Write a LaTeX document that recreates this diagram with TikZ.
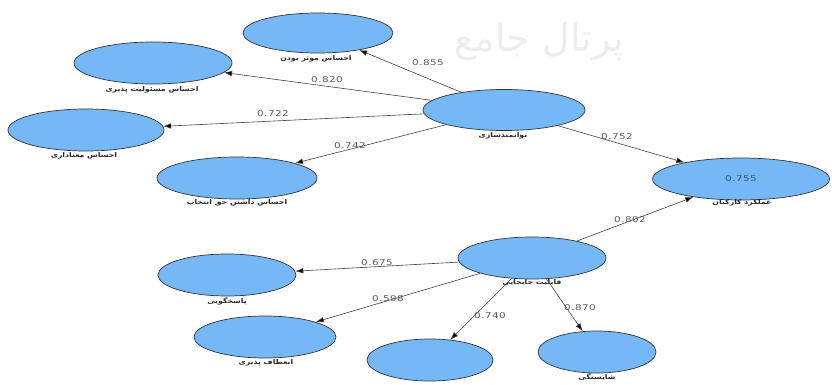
\documentclass[tikz,border=0pt]{standalone}
\usepackage{fontspec}
\setmainfont{DejaVu Sans}
\TeXXeTstate=1
\newfontfamily\fa[Script=Arabic,FakeStretch=1.2]{DejaVu Sans}
\newfontfamily\wmfont[Script=Arabic]{DejaVu Sans}
\newfontfamily\num[FakeStretch=1.3,LetterSpace=6]{DejaVu Sans}
\usetikzlibrary{arrows.meta,shapes.geometric}
\definecolor{lvblue}{RGB}{118,184,245}
\definecolor{rtxt}{RGB}{40,90,115}
\begin{document}
\begin{tikzpicture}[x=1pt,y=-1pt,
  lv/.style={ellipse,draw=black!80,line width=0.7pt,fill=lvblue,inner sep=0pt},
  lab/.style={font=\fa\bfseries\fontsize{6.5}{7}\selectfont,inner sep=0pt,text=black!85},
  coef/.style={font=\num\fontsize{8}{9}\selectfont,text=black!65,inner sep=0pt},
  arr/.style={draw=black!75,line width=0.6pt,-{Latex[length=8pt,width=5.5pt,fill=black]}}]
\useasboundingbox (0,0) rectangle (832,385);
% watermark
\node[text=black!7,font=\wmfont\fontsize{38}{38}\selectfont,inner sep=0pt,anchor=east] (wm) at (624,42) {\beginR پرتال جامع\endR};
% latent variables
\node[lv,minimum width=150pt,minimum height=40pt] (A) at (318,33) {};
\node[lv,minimum width=158pt,minimum height=42pt] (B) at (153,63) {};
\node[lv,minimum width=156pt,minimum height=42pt] (C) at (86,130) {};
\node[lv,minimum width=160pt,minimum height=42pt] (D) at (237,178) {};
\node[lv,minimum width=162pt,minimum height=41pt] (E) at (504,110) {};
\node[lv,minimum width=177pt,minimum height=42pt] (F) at (741,179) {};
\node[lv,minimum width=148pt,minimum height=42pt] (G) at (532,258) {};
\node[lv,minimum width=138pt,minimum height=42pt] (H) at (227,275) {};
\node[lv,minimum width=142pt,minimum height=42pt] (I) at (265,337) {};
\node[lv,minimum width=126pt,minimum height=42pt] (J) at (430,360) {};
\node[lv,minimum width=118pt,minimum height=42pt] (K) at (597,352) {};
\node[coef,text=rtxt] (r2) at (F.center) {0.755};
% labels
\node[lab] (lA) at (316,59) {\beginR احساس موثر بودن\endR};
\node[lab] (lB) at (152,90) {\beginR احساس مسئولیت پذیری\endR};
\node[lab] (lC) at (84,156) {\beginR احساس معناداری\endR};
\node[lab] (lD) at (237,203) {\beginR احساس داشتن حق انتخاب\endR};
\node[lab] (lE) at (503,136) {\beginR توانمندسازی\endR};
\node[lab] (lF) at (742,203) {\beginR عملکرد کارکنان\endR};
\node[lab] (lG) at (532,283) {\beginR قابلیت جابجایی\endR};
\node[lab] (lH) at (227,301) {\beginR پاسخگویی\endR};
\node[lab] (lI) at (266,363) {\beginR انعطاف پذیری\endR};
\node[lab] (lK) at (597,377) {\beginR شایستگی\endR};
% paths
\draw[arr] (E) -- (A);
\draw[arr] (E) -- (B);
\draw[arr] (E) -- (C);
\draw[arr] (E) -- (D);
\draw[arr] (E) -- (F);
\draw[arr] (G) -- (F);
\draw[arr] (G) -- (H);
\draw[arr] (G) -- (I);
\draw[arr] (G) -- (J);
\draw[arr] (G) -- (K);
% coefficients
\node[coef] (cA) at (428,63) {0.855};
\node[coef] (cB) at (327,80) {0.820};
\node[coef] (cC) at (273,114) {0.722};
\node[coef] (cD) at (350,146) {0.742};
\node[coef] (cF1) at (617,137) {0.752};
\node[coef] (cF2) at (630,220) {0.802};
\node[coef] (cH) at (377,263) {0.675};
\node[coef] (cI) at (388,299) {0.598};
\node[coef] (cJ) at (490,316) {0.740};
\node[coef] (cK) at (580,308) {0.870};
\end{tikzpicture}
\end{document}
